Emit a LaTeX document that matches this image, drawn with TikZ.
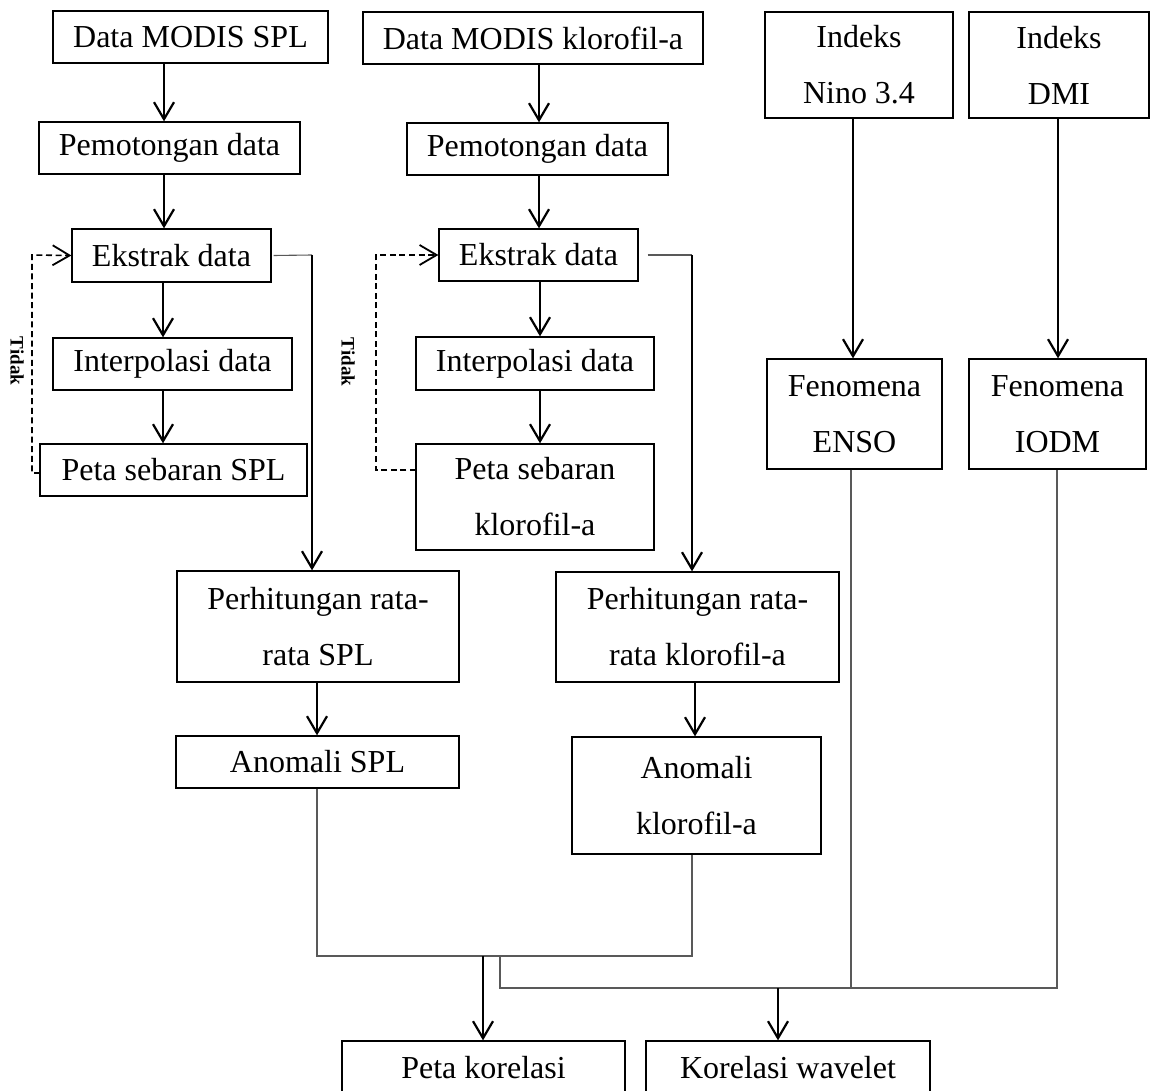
\documentclass[tikz,border=0pt]{standalone}
\usepackage{fontspec}
\setmainfont{Liberation Serif}
\usetikzlibrary{arrows.meta}
\newcommand\bx[6]{\node[box, minimum width={(#4-#2)*0.5pt}, minimum height={(#5-#3)*0.5pt}] (#1) at ({(#2+#4)/2},{(#3+#5)/2}) {#6};}
\begin{document}
\begin{tikzpicture}[x=0.5pt,y=-0.5pt,
  box/.style={draw, line width=0.65pt, inner sep=0pt, align=center, font=\fontsize{16}{28}\selectfont},
  arr/.style={line width=1.2pt, -{Straight Barb[length=8.5pt,width=10pt,line width=1.1pt]}},
  dasharr/.style={line width=0.8pt, dash pattern=on 3pt off 1.8pt, -{Straight Barb[length=8.5pt,width=10pt,line width=0.9pt]}},
  thinline/.style={line width=0.55pt, draw=black!65},
  lbl/.style={font=\fontsize{9.5}{10}\selectfont\bfseries, rotate=-90, inner sep=0pt}]
\useasboundingbox (0,0) rectangle (1150,1091);
% boxes
\bx{dmL}{53}{11}{328}{63}{Data MODIS SPL}
\bx{dmR}{363}{12}{703}{64}{Data MODIS klorofil-a}
\bx{inN}{765}{12}{953}{118}{Indeks\\Nino 3.4}
\bx{inD}{969}{12}{1149}{118}{Indeks\\DMI}
\bx{poL}{39}{122}{300}{174}{Pemotongan data}
\bx{poR}{407}{123}{668}{175}{Pemotongan data}
\bx{ekL}{72}{229}{271}{282}{Ekstrak data}
\bx{ekR}{439}{229}{638}{281}{Ekstrak data}
\bx{ipL}{53}{338}{292}{390}{Interpolasi data}
\bx{ipR}{416}{337}{654}{390}{Interpolasi data}
\bx{psL}{40}{444}{307}{496}{Peta sebaran SPL}
\bx{psR}{416}{444}{654}{550}{Peta sebaran\\klorofil-a}
\bx{feE}{767}{359}{942}{469}{Fenomena\\ENSO}
\bx{feI}{969}{359}{1146}{469}{Fenomena\\IODM}
\bx{phL}{177}{571}{459}{682}{Perhitungan rata-\\rata SPL}
\bx{phR}{556}{572}{839}{682}{Perhitungan rata-\\rata klorofil-a}
\bx{anL}{176}{736}{459}{788}{Anomali SPL}
\bx{anR}{572}{737}{821}{854}{Anomali\\klorofil-a}
\bx{pk}{342}{1041}{625}{1095}{Peta korelasi}
\bx{kw}{646}{1041}{930}{1095}{Korelasi wavelet}
% labels
\node[lbl] (tL) at (17,361) {Tidak};
\node[lbl] (tR) at (348,362) {Tidak};
% coordinates
\coordinate (cL) at (312,255);
\coordinate (cR) at (692,255);
\coordinate (dL1) at (32,473);
\coordinate (dL2) at (32,255);
\coordinate (dR1) at (376,470);
\coordinate (dR2) at (376,255);
\coordinate (dLe) at (40,473);
\coordinate (dRe) at (416,470);
\coordinate (j1) at (317,956);
\coordinate (j2) at (692,956);
\coordinate (k0) at (500,956);
\coordinate (k1) at (500,988);
\coordinate (k2) at (1057,988);
\coordinate (k3) at (851,988);
\coordinate (aP) at (483,956);
\coordinate (aK) at (778,988);
% left column arrows
\draw[arr] (dmL.south -| 164,0) -- (poL.north -| 164,0);
\draw[arr] (poL.south -| 164,0) -- (ekL.north -| 164,0);
\draw[arr] (ekL.south -| 163,0) -- (ipL.north -| 163,0);
\draw[arr] (ipL.south -| 163,0) -- (psL.north -| 163,0);
% right column arrows
\draw[arr] (dmR.south -| 539,0) -- (poR.north -| 539,0);
\draw[arr] (poR.south -| 539,0) -- (ekR.north -| 539,0);
\draw[arr] (ekR.south -| 540,0) -- (ipR.north -| 540,0);
\draw[arr] (ipR.south -| 540,0) -- (psR.north -| 540,0);
% index arrows
\draw[arr] (inN.south -| 853,0) -- (feE.north -| 853,0);
\draw[arr] (inD.south -| 1058,0) -- (feI.north -| 1058,0);
% dashed loops
\draw[dasharr] (dLe) -- (dL1) -- (dL2) -- (ekL.west);
\draw[dasharr] (dRe) -- (dR1) -- (dR2) -- (ekR.west);
% ekstrak to perhitungan
\draw[thinline] (ekL.east) ++(2,0) -- (cL);
\draw[arr] (cL) -- (phL.north -| cL);
\draw[thinline] (ekR.east) ++(9,0) -- (cR);
\draw[arr] (cR) -- (phR.north -| cR);
% perhitungan to anomali
\draw[arr] (phL.south -| 317,0) -- (anL.north -| 317,0);
\draw[arr] (phR.south -| 695,0) -- (anR.north -| 695,0);
% bottom joins
\draw[thinline] (anL.south -| j1) -- (j1) -- (j2) -- (anR.south -| j2);
\draw[arr] (aP) -- (pk.north -| aP);
\draw[thinline] (k0) -- (k1) -- (k2) -- (feI.south -| k2);
\draw[thinline] (feE.south -| k3) -- (k3);
\draw[arr] (aK) -- (kw.north -| aK);
\end{tikzpicture}
\end{document}
